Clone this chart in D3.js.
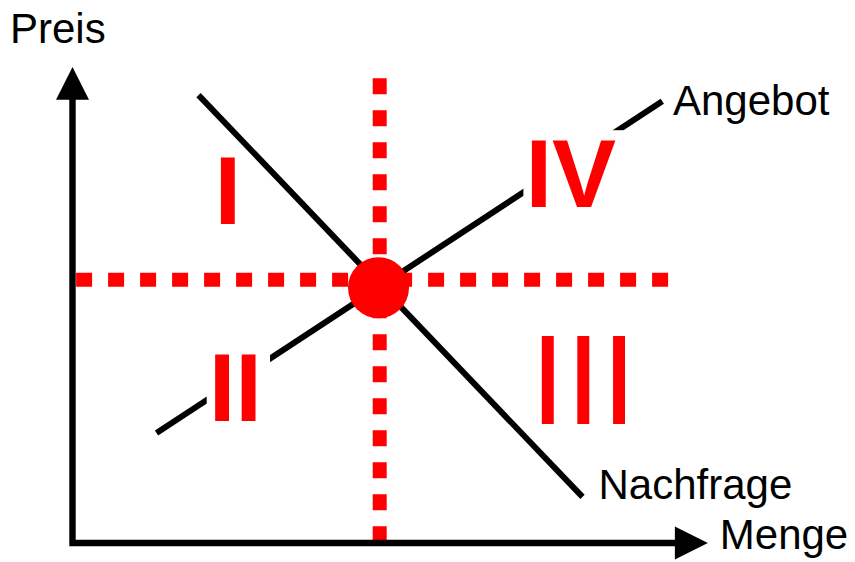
<!DOCTYPE html>
<html>
<head>
<meta charset="utf-8">
<script src="https://cdn.jsdelivr.net/npm/d3@7"></script>
<style>
  html, body { margin: 0; padding: 0; background: #fff; }
  svg { display: block; }
  text { font-family: "Liberation Sans", Arial, sans-serif; }
</style>
</head>
<body>
<svg id="chart"></svg>
<script>
// market diagram: quantity (Menge) vs price (Preis)
var axisTitles = ["Menge", "Preis"];
var curveNames = ["Nachfrage", "Angebot"];
var regionLabels = ["I", "II", "III", "IV"];

// curve end points as [quantity, price] in 0..100 units
var demand = [[21, 95.3], [85, 9.8]];
var supply = [[14, 23.4], [98.3, 94]];
var equilibrium = [51, 54.3];
var guideQ = 51.2;
var guideP = 56;

var width = 855;
var height = 562;

var svg = d3.select("#chart")
  .attr("width", width)
  .attr("height", height);

var x = d3.scaleLinear().domain([0, 100]).range([72.5, 672.5]);
var y = d3.scaleLinear().domain([0, 100]).range([543, 73]);

var line = d3.line()
  .x(function (d) { return x(d[0]); })
  .y(function (d) { return y(d[1]); });

// dotted red guides
svg.append("path")
  .attr("d", line([[0.6, guideP], [99.7, guideP]]))
  .attr("stroke", "#ff0000")
  .attr("stroke-width", 14)
  .attr("stroke-dasharray", "16,16")
  .attr("fill", "none");

svg.append("path")
  .attr("d", line([[guideQ, 98.9], [guideQ, 0]]))
  .attr("stroke", "#ff0000")
  .attr("stroke-width", 14)
  .attr("stroke-dasharray", "16,16")
  .attr("fill", "none");

// supply and demand
[demand, supply].forEach(function (c) {
  svg.append("path")
    .attr("d", line(c))
    .attr("stroke", "#000")
    .attr("stroke-width", 6)
    .attr("fill", "none");
});

// axes with arrow heads
svg.append("path")
  .attr("d", line([[0, 94.3], [0, 0], [100.4, 0]]))
  .attr("stroke", "#000")
  .attr("stroke-width", 6.4)
  .attr("stroke-linecap", "square")
  .attr("fill", "none");

var ax = x(0), ay = y(0);
svg.append("path")
  .attr("d", "M" + (ax - 16.5) + "," + y(94.3) + "L" + ax + "," + y(101.3) +
    "L" + (ax + 16.5) + "," + y(94.3) + "Z")
  .attr("fill", "#000");
svg.append("path")
  .attr("d", "M" + x(100.4) + "," + (ay - 16.5) + "L" + x(105.9) + "," + ay +
    "L" + x(100.4) + "," + (ay + 16.5) + "Z")
  .attr("fill", "#000");

// equilibrium point
svg.append("circle")
  .attr("cx", x(equilibrium[0]))
  .attr("cy", y(equilibrium[1]))
  .attr("r", 30.5)
  .attr("fill", "#ff0000");

// axis titles and curve names
svg.append("text").attr("x", 719.8).attr("y", 549)
  .style("font-size", "42px").text(axisTitles[0]);
svg.append("text").attr("x", 10).attr("y", 43)
  .style("font-size", "42px").text(axisTitles[1]);
svg.append("text").attr("x", 598.5).attr("y", 499)
  .style("font-size", "42px").text(curveNames[0]);
svg.append("text").attr("x", 673).attr("y", 115)
  .style("font-size", "42px").text(curveNames[1]);

// region numerals; II and IV sit on a white box that hides the supply line
var regions = [
  { t: regionLabels[0], x: 214.6, y: 224, size: 96, weight: "bold", box: false },
  { t: regionLabels[1], x: 208.7, y: 421, size: 96, weight: "bold", box: true },
  { t: regionLabels[2], x: 530, y: 424, size: 128, weight: "normal", box: false },
  { t: regionLabels[3], x: 525.4, y: 207, size: 96, weight: "bold", box: true }
];

regions.forEach(function (r) {
  var g = svg.append("g");
  var bg = g.append("rect").attr("fill", "#fff");
  var t = g.append("text")
    .attr("x", r.x)
    .attr("y", r.y)
    .attr("fill", "#ff0000")
    .style("font-size", r.size + "px")
    .style("font-weight", r.weight)
    .text(r.t);
  if (!r.box) { bg.remove(); return; }
  var b = t.node().getBBox();
  var top = r.y - r.size * 0.8;
  bg.attr("x", b.x - 2).attr("y", top)
    .attr("width", b.width + 10).attr("height", r.y + 2 - top);
});
</script>
</body>
</html>
